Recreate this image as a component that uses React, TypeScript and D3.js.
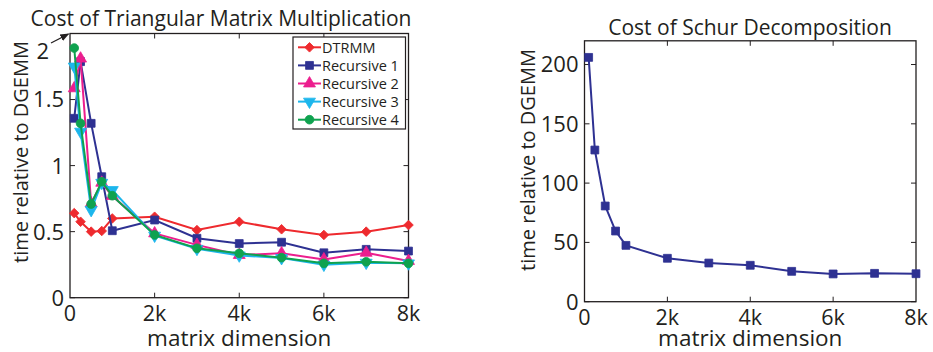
import React from "react";
import * as d3 from "d3";

// matrix sizes that were measured
const dims = [100, 250, 500, 750, 1000, 2000, 3000, 4000, 5000, 6000, 7000, 8000];

// left chart: time relative to DGEMM
const dtrmm = [0.64, 0.575, 0.5, 0.505, 0.6, 0.613, 0.512, 0.575, 0.518, 0.475, 0.5, 0.55];
const recursive1 = [1.358, 1.787, 1.32, 0.916, 0.507, 0.588, 0.45, 0.41, 0.42, 0.34, 0.366, 0.353];
const recursive2 = [1.585, 1.81, 0.714, 0.87, 0.77, 0.487, 0.4, 0.323, 0.336, 0.29, 0.34, 0.278];
const recursive3 = [1.75, 1.257, 0.664, 0.87, 0.815, 0.47, 0.37, 0.32, 0.3, 0.25, 0.265, 0.26];
const recursive4 = [1.89, 1.32, 0.709, 0.878, 0.772, 0.475, 0.374, 0.336, 0.303, 0.26, 0.272, 0.26];

// right chart: Schur decomposition
const schur = [206, 127.9, 80.7, 59.6, 47.5, 36.6, 32.6, 30.7, 25.6, 23.4, 23.9, 23.6];

const xTicks = [0, 2000, 4000, 6000, 8000];
const leftYTicks = [0, 0.5, 1, 1.5, 2];
const rightYTicks = [0, 50, 100, 150, 200];

const FONT = "'Open Sans', sans-serif";
const INK = "#231f20";

type Series = { name: string; values: number[]; color: string; marker: string };

const leftSeries: Series[] = [
  { name: "DTRMM", values: dtrmm, color: "#ee2a2e", marker: "diamond" },
  { name: "Recursive 1", values: recursive1, color: "#2e3192", marker: "square" },
  { name: "Recursive 2", values: recursive2, color: "#ec1e8e", marker: "up" },
  { name: "Recursive 3", values: recursive3, color: "#1cb6ec", marker: "down" },
  { name: "Recursive 4", values: recursive4, color: "#0fa24f", marker: "circle" },
];

const fmtX = (d: number) => (d === 0 ? "0" : `${d / 1000}k`);

function Marker({ kind, x, y, color }: { kind: string; x: number; y: number; color: string }) {
  let path = "";
  let rot = 0;
  if (kind === "diamond") {
    path = d3.symbol(d3.symbolSquare, 46)()!;
    rot = 45;
  } else if (kind === "square") {
    path = d3.symbol(d3.symbolSquare, 62)()!;
  } else if (kind === "up") {
    path = d3.symbol(d3.symbolTriangle, 62)()!;
  } else if (kind === "down") {
    path = d3.symbol(d3.symbolTriangle, 62)()!;
    rot = 180;
  } else {
    path = d3.symbol(d3.symbolCircle, 60)()!;
  }
  return (
    <path
      d={path}
      transform={`translate(${x},${y}) rotate(${rot})`}
      fill={color}
      stroke={color}
      strokeWidth={0.8}
    />
  );
}

function Frame({
  x,
  y,
  yTicks,
  yFmt,
  skipTop,
}: {
  x: d3.ScaleLinear<number, number>;
  y: d3.ScaleLinear<number, number>;
  yTicks: number[];
  yFmt: (d: number) => string;
  skipTop?: boolean;
}) {
  const [x0, x1] = x.range();
  const [y0, y1] = y.range();
  const tl = 5;
  return (
    <g>
      <rect x={x0} y={y1} width={x1 - x0} height={y0 - y1} fill="none" stroke={INK} strokeWidth={1.3} />
      {xTicks.slice(1, -1).map((t) => (
        <g key={"xt" + t}>
          <line x1={x(t)} x2={x(t)} y1={y0} y2={y0 - tl} stroke={INK} strokeWidth={1} />
          <line x1={x(t)} x2={x(t)} y1={y1} y2={y1 + tl} stroke={INK} strokeWidth={1} />
        </g>
      ))}
      {yTicks.map((t) => (
        <g key={"yt" + t}>
          <line x1={x0} x2={x0 + tl} y1={y(t)} y2={y(t)} stroke={INK} strokeWidth={1} />
          <line x1={x1} x2={x1 - tl} y1={y(t)} y2={y(t)} stroke={INK} strokeWidth={1} />
        </g>
      ))}
      {xTicks.map((t) => (
        <text key={"xl" + t} x={x(t)} y={y0 + 23} textAnchor="middle" fontSize={21.5} fontFamily={FONT} fill={INK}>
          {fmtX(t)}
        </text>
      ))}
      {yTicks
        .filter((t, i) => !(skipTop && i === yTicks.length - 1))
        .map((t) => (
          <text
            key={"yl" + t}
            x={x0 - 6}
            y={y(t)}
            dy="0.36em"
            textAnchor="end"
            fontSize={22}
            fontFamily={FONT}
            fill={INK}
          >
            {yFmt(t)}
          </text>
        ))}
      <text x={(x0 + x1) / 2} y={345.5} textAnchor="middle" fontSize={22.5} fontFamily={FONT} fill={INK}>
        matrix dimension
      </text>
    </g>
  );
}

export default function App() {
  const xL = d3.scaleLinear().domain([0, 8000]).range([70, 408.5]);
  const yL = d3.scaleLinear().domain([0, 2]).range([297.7, 33.5]);
  const xR = d3.scaleLinear().domain([0, 8000]).range([584.5, 916]);
  const yR = d3.scaleLinear().domain([0, 220]).range([301.7, 40.8]);

  const lineL = (vals: number[]) =>
    d3
      .line<number>()
      .x((_, i) => xL(dims[i]))
      .y((v) => yL(v))(vals)!;
  const lineR = d3
    .line<number>()
    .x((_, i) => xR(dims[i]))
    .y((v) => yR(v))(schur)!;

  const legX = 293;
  const legY = 37;
  const legRow = 18.1;

  return (
    <svg
      width={933}
      height={352}
      style={{ position: "absolute", left: 0, top: 0, background: "#fff" }}
    >
      <defs>
        <marker id="arrowhead" viewBox="0 0 10 10" refX="9" refY="5" markerWidth="7" markerHeight="7" orient="auto">
          <path d="M0,1 L10,5 L0,9 Z" fill={INK} />
        </marker>
      </defs>

      {/* left chart */}
      <text x={221} y={26} textAnchor="middle" fontSize={21} fontFamily={FONT} fill={INK}>
        Cost of Triangular Matrix Multiplication
      </text>
      <Frame x={xL} y={yL} yTicks={leftYTicks} yFmt={(d) => String(d)} skipTop />
      <text x={49} y={59} textAnchor="end" fontSize={22} fontFamily={FONT} fill={INK}>
        2
      </text>
      <line
        x1={51}
        y1={43}
        x2={xL(0) - 1.5}
        y2={yL(2) + 0.5}
        stroke={INK}
        strokeWidth={1.3}
        markerEnd="url(#arrowhead)"
      />
      <text
        transform={`translate(28,152) rotate(-90)`}
        textAnchor="middle"
        fontSize={20}
        fontFamily={FONT}
        fill={INK}
      >
        time relative to DGEMM
      </text>
      {leftSeries.map((s) => (
        <g key={s.name}>
          <path d={lineL(s.values)} fill="none" stroke={s.color} strokeWidth={2} />
          {s.values.map((v, i) => (
            <Marker key={i} kind={s.marker} x={xL(dims[i])} y={yL(v)} color={s.color} />
          ))}
        </g>
      ))}

      {/* legend */}
      <rect x={legX} y={legY} width={112.5} height={92} fill="#fff" stroke={INK} strokeWidth={1.2} />
      {leftSeries.map((s, i) => {
        const cy = legY + 10.3 + i * legRow;
        return (
          <g key={"leg" + s.name}>
            <line x1={legX + 5} x2={legX + 28} y1={cy} y2={cy} stroke={s.color} strokeWidth={2} />
            <Marker kind={s.marker} x={legX + 16.5} y={cy} color={s.color} />
            <text x={legX + 29} y={cy} dy="0.36em" fontSize={14.5} fontFamily={FONT} fill={INK}>
              {s.name}
            </text>
          </g>
        );
      })}

      {/* right chart */}
      <text x={750} y={35} textAnchor="middle" fontSize={21} fontFamily={FONT} fill={INK}>
        Cost of Schur Decomposition
      </text>
      <Frame x={xR} y={yR} yTicks={rightYTicks} yFmt={(d) => String(d)} />
      <text
        transform={`translate(535,160) rotate(-90)`}
        textAnchor="middle"
        fontSize={20}
        fontFamily={FONT}
        fill={INK}
      >
        time relative to DGEMM
      </text>
      <path d={lineR} fill="none" stroke="#2e3192" strokeWidth={2} />
      {schur.map((v, i) => (
        <Marker key={i} kind="square" x={xR(dims[i])} y={yR(v)} color="#2e3192" />
      ))}
    </svg>
  );
}
